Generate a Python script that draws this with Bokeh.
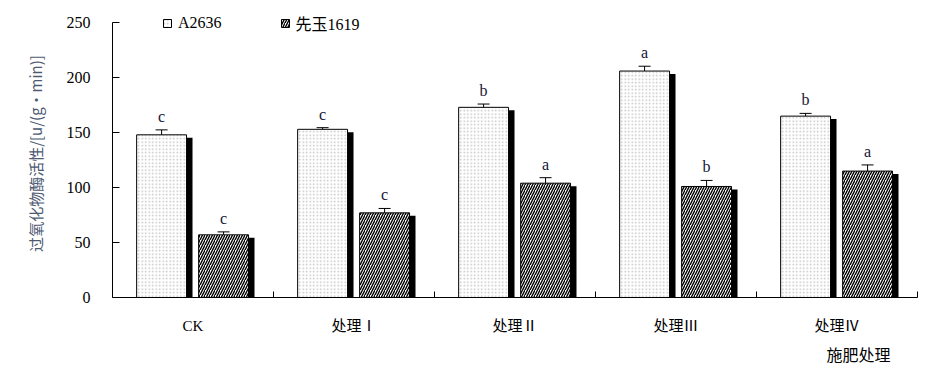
from bokeh.plotting import figure
from bokeh.models import (ColumnDataSource, FixedTicker, Whisker, TeeHead, Legend,
                          LegendItem, Title, Range1d)
from bokeh.embed import file_html
from bokeh.resources import INLINE

groups = ["CK", "处理Ⅰ", "处理Ⅱ", "处理Ⅲ", "处理Ⅳ"]
a_vals = [148, 153, 173, 206, 165]
a_err = [4.5, 1.5, 3.0, 4.4, 2.5]
b_vals = [57, 77, 104, 101, 115]
b_err = [2.7, 4.0, 5.0, 5.5, 5.6]
a_letters = ["c", "c", "b", "a", "b"]
b_letters = ["c", "c", "a", "b", "a"]
series_names = ["A2636", "先玉1619"]
yticks = [0, 50, 100, 150, 200, 250]
x_title = "施肥处理"
y_title = "过氧化物酶活性/[u/(g·min)]"

centers = [i + 0.5 for i in range(len(groups))]
off_a, off_b, bw = -0.195, 0.19, 0.31
sh_dx, sh_dy = 0.037, 2.7

def src(vals, errs, letters, off):
    xs = [c + off for c in centers]
    return ColumnDataSource(dict(
        x=xs, top=vals, xs=[x + sh_dx for x in xs], stop=[v - sh_dy for v in vals],
        lower=[v - e for v, e in zip(vals, errs)], upper=[v + e for v, e in zip(vals, errs)],
        lab=letters))

sa = src(a_vals, a_err, a_letters, off_a)
sb = src(b_vals, b_err, b_letters, off_b)

p = figure(width=933, height=368, output_backend="svg", toolbar_location=None,
           x_range=Range1d(0, len(groups)), y_range=Range1d(0, 262),
           min_border_left=112, min_border_right=16, min_border_top=9, min_border_bottom=71)
p.outline_line_color = None
p.xgrid.visible = False
p.ygrid.visible = False

serif = "'Liberation Serif', 'Noto Sans CJK SC'"

for s in (sa, sb):
    p.vbar(x="xs", top="stop", bottom=0, width=bw, source=s, fill_color="black", line_color=None)

ra = p.vbar(x="x", top="top", bottom=0, width=bw, source=sa, fill_color="white",
            line_color="black", line_width=1, hatch_pattern=".", hatch_color="#c4c4c4",
            hatch_scale=3.5, hatch_weight=0.8)
rb = p.vbar(x="x", top="top", bottom=0, width=bw, source=sb, fill_color="white",
            line_color="black", line_width=1, hatch_pattern="/", hatch_color="black",
            hatch_scale=5, hatch_weight=1.4)

for s in (sa, sb):
    w = Whisker(base="x", lower="lower", upper="upper", source=s, line_color="black", line_width=1,
                upper_head=TeeHead(size=12, line_color="black", line_width=1),
                lower_head=TeeHead(size=12, line_color="black", line_width=1))
    p.add_layout(w)
    p.text(x="x", y="upper", text="lab", source=s, text_align="center", text_baseline="bottom",
           y_offset=-5, text_font={"value": "'Liberation Serif'"}, text_font_size="16px",
           text_color="#141434")

# axes
p.yaxis.bounds = (0, 250)
p.yaxis.ticker = FixedTicker(ticks=yticks, minor_ticks=[])
p.yaxis.major_tick_in = 7
p.yaxis.major_tick_out = 0
p.yaxis.major_label_standoff = 22
p.yaxis.major_label_text_font = "'Liberation Serif'"
p.yaxis.major_label_text_font_size = "16px"
p.yaxis.major_label_text_color = "black"
p.yaxis.axis_line_color = "black"
p.yaxis.major_tick_line_color = "black"
p.yaxis.axis_label = y_title
p.yaxis.axis_label_text_font = "Noto Sans CJK SC"
p.yaxis.axis_label_text_font_style = "normal"
p.yaxis.axis_label_text_font_size = "15px"
p.yaxis.axis_label_text_color = "#4d5a72"
p.yaxis.axis_label_standoff = 18

p.xaxis.ticker = FixedTicker(ticks=centers, minor_ticks=[float(i) for i in range(1, len(groups) + 1)])
p.xaxis.major_label_overrides = {c: g for c, g in zip(centers, groups)}
p.xaxis.major_tick_line_color = None
p.xaxis.minor_tick_in = 6
p.xaxis.minor_tick_out = 0
p.xaxis.minor_tick_line_color = "black"
p.xaxis.major_label_standoff = 14
p.xaxis.major_label_text_font = serif
p.xaxis.major_label_text_font_size = "15px"
p.xaxis.major_label_text_color = "black"
p.xaxis.axis_line_color = "black"

p.add_layout(Title(text=x_title, align="right", offset=27, standoff=6,
                   text_font="Noto Sans CJK SC", text_font_style="normal",
                   text_font_size="16px", text_color="black"), "below")

legend = Legend(items=[LegendItem(label=series_names[0], renderers=[ra]),
                       LegendItem(label=series_names[1], renderers=[rb])],
                orientation="horizontal", location=(50, 262), glyph_width=10, glyph_height=10,
                label_standoff=6, spacing=58, padding=0, margin=0, border_line_color=None,
                background_fill_alpha=0, label_text_font=serif, label_text_font_size="16px",
                label_text_color="black", label_height=12)
p.add_layout(legend)

open("out.html", "w").write(file_html(p, INLINE))
